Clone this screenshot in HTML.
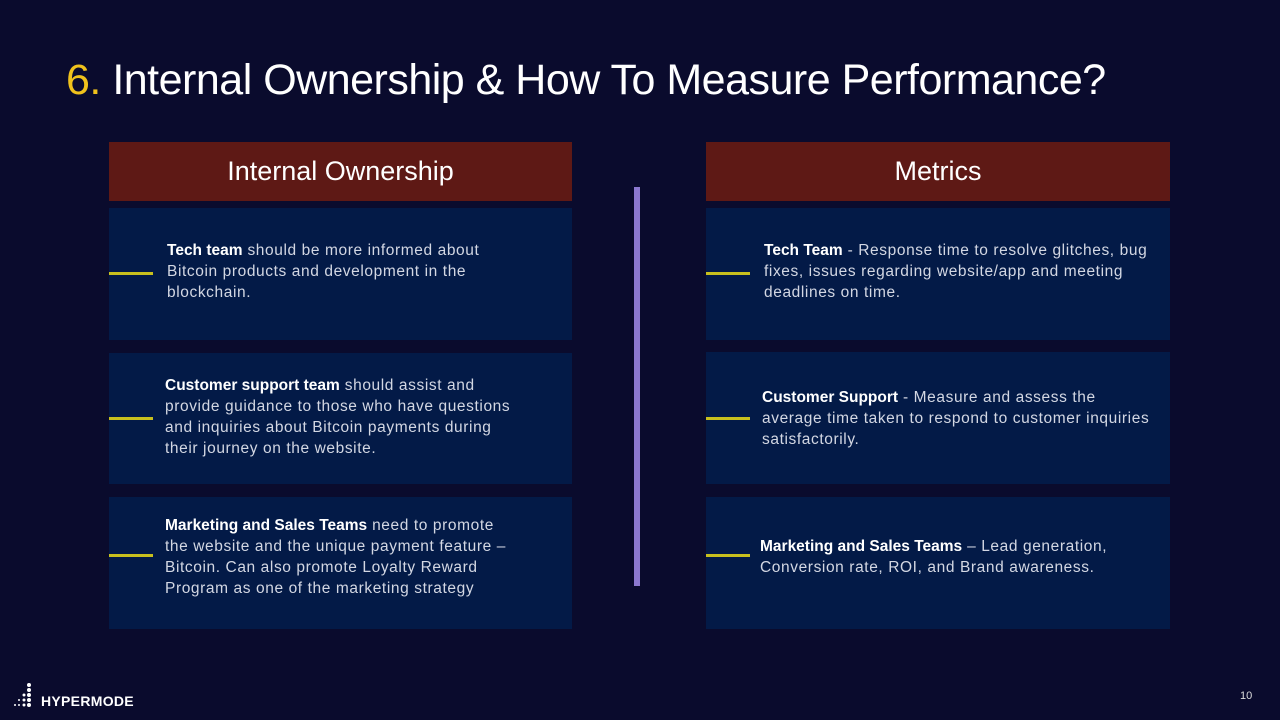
<!DOCTYPE html>
<html><head><meta charset="utf-8"><style>
body{margin:0;width:1280px;height:720px;background:#0a0b2d;position:relative;overflow:hidden;font-family:"Liberation Sans",sans-serif;color:#d3d7e3}
.a{position:absolute}
.title{left:66px;top:56px;font-size:43px;color:#fff;letter-spacing:-0.5px;white-space:nowrap}
.hdr{background:#5e1915;color:#fff;font-size:27px;text-align:center;line-height:59px;height:59px}
.box{background:#031a47}
.yl{height:3px;width:44px;background:#c8c01e}
.t{font-size:15.5px;line-height:21px;white-space:nowrap;letter-spacing:0.6px}
.t b{color:#fff;letter-spacing:0}
</style></head><body>
<div class="a title"><span style="color:#f0c21c">6.</span> Internal Ownership &amp; How To Measure Performance?</div>
<div class="a hdr" style="left:109px;top:142px;width:463px">Internal Ownership</div>
<div class="a hdr" style="left:706px;top:142px;width:464px">Metrics</div>
<div class="a" style="left:634px;top:187px;width:6px;height:399px;background:#8b78cf"></div>

<div class="a box" style="left:109px;top:208px;width:463px;height:132px"></div>
<div class="a box" style="left:109px;top:353px;width:463px;height:131px"></div>
<div class="a box" style="left:109px;top:497px;width:463px;height:132px"></div>
<div class="a box" style="left:706px;top:208px;width:464px;height:132px"></div>
<div class="a box" style="left:706px;top:352px;width:464px;height:132px"></div>
<div class="a box" style="left:706px;top:497px;width:464px;height:132px"></div>

<div class="a yl" style="left:109px;top:272px"></div>
<div class="a yl" style="left:109px;top:417px"></div>
<div class="a yl" style="left:109px;top:554px"></div>
<div class="a yl" style="left:706px;top:272px"></div>
<div class="a yl" style="left:706px;top:417px"></div>
<div class="a yl" style="left:706px;top:554px"></div>

<div class="a t" style="left:167px;top:240px"><b>Tech team</b> should be more informed about<br>Bitcoin products and development in the<br>blockchain.</div>
<div class="a t" style="left:165px;top:375px"><b>Customer support team</b> should assist and<br>provide guidance to those who have questions<br>and inquiries about Bitcoin payments during<br>their journey on the website.</div>
<div class="a t" style="left:165px;top:515px"><b>Marketing and Sales Teams</b> need to promote<br>the website and the unique payment feature –<br>Bitcoin. Can also promote Loyalty Reward<br>Program as one of the marketing strategy</div>
<div class="a t" style="left:764px;top:240px"><b>Tech Team</b> - Response time to resolve glitches, bug<br>fixes, issues regarding website/app and meeting<br>deadlines on time.</div>
<div class="a t" style="left:762px;top:387px"><b>Customer Support</b> - Measure and assess the<br>average time taken to respond to customer inquiries<br>satisfactorily.</div>
<div class="a t" style="left:760px;top:536px"><b>Marketing and Sales Teams</b> – Lead generation,<br>Conversion rate, ROI, and Brand awareness.</div>

<svg class="a" style="left:12px;top:682px" width="30" height="26">
<g fill="#fff"><circle cx="17" cy="3" r="2"/><circle cx="17" cy="8" r="2"/><circle cx="17" cy="13" r="2"/><circle cx="17" cy="18" r="2"/><circle cx="17" cy="23" r="2"/>
<circle cx="12" cy="13" r="1.5"/><circle cx="12" cy="18" r="1.5"/><circle cx="12" cy="23" r="1.5"/><circle cx="7" cy="18" r="1"/><circle cx="7" cy="23" r="1"/><circle cx="3" cy="23" r="1"/></g></svg>
<div class="a" style="left:41px;top:693px;font-size:14px;font-weight:bold;color:#fff;letter-spacing:0.3px">HYPERMODE</div>
<div class="a" style="left:1240px;top:690px;font-size:11px;color:#ddd">10</div>
</body></html>
